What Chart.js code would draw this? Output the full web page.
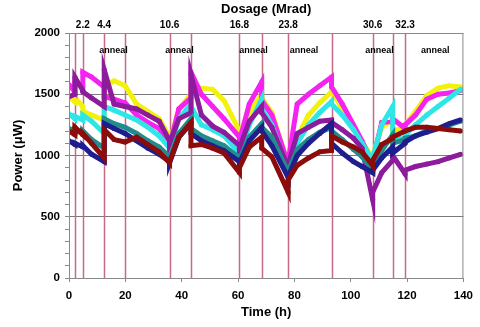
<!DOCTYPE html>
<html>
<head>
<meta charset="utf-8">
<script src="https://cdn.jsdelivr.net/npm/chart.js@4.4.0/dist/chart.umd.min.js"></script>
<style>
  html, body { margin: 0; padding: 0; background: #fff; }
  #wrap { width: 480px; height: 327px; }
</style>
</head>
<body>
<div id="wrap"><canvas id="powerChart" width="480" height="327"></canvas></div>
<script>
// time grid (h); repeated times are the jumps at the irradiation / anneal steps
const hours = [0, 2.1, 2.1, 4.9, 4.9, 8, 12.5, 12.5, 16, 19.9, 24, 28, 32, 35.7, 35.7, 39, 43.3, 43.3, 47, 51, 55,
  60.5, 60.5, 64, 68.4, 68.4, 72, 77.8, 77.8, 81, 85, 89, 93.2, 93.2, 97, 101, 104, 107.8, 107.8, 111,
  114.9, 114.9, 119.3, 119.3, 123, 127, 131, 135, 139];

const maroon = [1200, 1170, 1230, 1170, 1180, 1100, 980, 1210, 1130, 1110, 1150, 1090, 1030, 940, 950, 1150, 1270, 1080, 1090, 1060, 1020,
  860, 900, 1070, 1150, 1060, 990, 700, 800, 920, 980, 1030, 1040, 1160, 1110, 1070, 1030, 920, 960, 1090,
  1140, 1150, 1200, 1200, 1230, 1230, 1220, 1210, 1200];
const navy = [1120, 1090, 1100, 1070, 1080, 1010, 950, 1260, 1220, 1180, 1120, 1060, 1010, 950, 940, 1150, 1260, 1180, 1120, 1080, 1040,
  950, 940, 1120, 1230, 1200, 1080, 820, 830, 1000, 1100, 1180, 1260, 1100, 1020, 950, 910, 860, 880, 980,
  1070, 1020, 1100, 1110, 1160, 1190, 1220, 1260, 1290];
const teal = [1220, 1200, 1210, 1180, 1200, 1130, 1060, 1300, 1260, 1230, 1180, 1120, 1070, 990, 980, 1180, 1300, 1220, 1160, 1120, 1080,
  980, 970, 1150, 1260, 1230, 1150, 860, 870, 1050, 1130, 1190, 1230, 1200, 1130, 1050, 990, 880, 900, 1040,
  1170, 1100, 1130, 1140, 1160, 1200, 1220, 1250, 1280];
const purple = [1480, 1500, 1640, 1530, 1520, 1470, 1400, 1700, 1420, 1400, 1380, 1330, 1280, 1120, 1100, 1300, 1350, 1660, 1330, 1240, 1190,
  1080, 1060, 1280, 1400, 1350, 1230, 900, 920, 1180, 1230, 1280, 1290, 1270, 1210, 1140, 1060, 640, 700, 860,
  960, 1000, 850, 880, 910, 930, 950, 980, 1010];
const cyan = [1340, 1300, 1320, 1290, 1330, 1280, 1180, 1400, 1370, 1330, 1290, 1230, 1160, 1060, 1050, 1300, 1420, 1400, 1250, 1210, 1160,
  1020, 1000, 1250, 1460, 1380, 1250, 880, 900, 1100, 1250, 1350, 1440, 1420, 1330, 1210, 1100, 960, 980, 1250,
  1400, 1150, 1130, 1170, 1250, 1330, 1400, 1470, 1540];
const magenta = [1580, 1520, 1600, 1560, 1680, 1640, 1560, 1480, 1460, 1430, 1330, 1270, 1220, 1100, 1080, 1380, 1470, 1680, 1500, 1400, 1300,
  1150, 1120, 1420, 1600, 1450, 1330, 930, 950, 1420, 1500, 1570, 1640, 1560, 1420, 1250, 1120, 930, 950, 1270,
  1280, 1300, 1220, 1250, 1330, 1460, 1500, 1510, 1530];
const yellow = [1480, 1440, 1470, 1400, 1360, 1330, 1290, 1560, 1610, 1570, 1420, 1360, 1300, 1150, 1100, 1380, 1500, 1560, 1550, 1540, 1450,
  1200, 1180, 1350, 1500, 1470, 1350, 930, 920, 1150, 1330, 1430, 1520, 1530, 1380, 1240, 1110, 980, 1000, 1230,
  1290, 1200, 1230, 1250, 1360, 1490, 1550, 1570, 1560];

// vertical markers, dose labels on top, anneal notes
const stepLines = [2.1, 4.9, 12.5, 19.9, 35.7, 43.3, 60.5, 68.4, 77.8, 93.2, 107.8, 114.9, 119.3];
const doseAt = [4.9, 12.5, 35.7, 60.5, 77.8, 107.8, 119.3];
const doseLabels = ['2.2', '4.4', '10.6', '16.8', '23.8', '30.6', '32.3'];
const annealAt = [15.8, 39.2, 65.5, 83.4, 110.2, 130];

const FONT = 'Liberation Sans';

function pts(vals) {
  return vals.map((v, i) => ({ x: hours[i], y: v }));
}
function series(label, vals, color) {
  return {
    label: label,
    data: pts(vals),
    showLine: true,
    borderColor: color,
    backgroundColor: color,
    borderWidth: 5,
    pointRadius: 2.5,
    pointBorderWidth: 0,
    tension: 0
  };
}

const markers = {
  id: 'markers',
  beforeDatasetsDraw(chart) {
    const { ctx, chartArea: a, scales: { x } } = chart;
    ctx.save();
    ctx.strokeStyle = '#c76a84';
    ctx.lineWidth = 1.5;
    stepLines.forEach(t => {
      const px = Math.round(x.getPixelForValue(t)) + 0.5;
      ctx.beginPath();
      ctx.moveTo(px, a.top);
      ctx.lineTo(px, a.bottom);
      ctx.stroke();
    });
    ctx.restore();
  },
  afterDatasetsDraw(chart) {
    const { ctx, chartArea: a, scales: { x } } = chart;
    ctx.save();
    ctx.strokeStyle = '#8a8a8a';
    ctx.lineWidth = 1;
    ctx.strokeRect(a.left + 0.5, a.top + 0.5, a.right - a.left - 1, a.bottom - a.top);
    ctx.fillStyle = '#000';
    ctx.font = 'bold 9px ' + FONT;
    ctx.textAlign = 'center';
    ctx.textBaseline = 'middle';
    annealAt.forEach(t => ctx.fillText('anneal', x.getPixelForValue(t), a.top + 18));
    ctx.restore();
  }
};

new Chart(document.getElementById('powerChart').getContext('2d'), {
  type: 'scatter',
  data: {
    datasets: [
      series('maroon', maroon, '#8c0c0c'),
      series('navy', navy, '#1e1e8e'),
      series('teal', teal, '#228c8c'),
      series('purple', purple, '#8c1c9c'),
      series('cyan', cyan, '#2ee6e6'),
      series('magenta', magenta, '#f424f0'),
      series('yellow', yellow, '#f2f20a')
    ]
  },
  options: {
    responsive: false,
    devicePixelRatio: 1,
    animation: false,
    layout: { padding: { left: 0, right: 9, top: 0, bottom: 0 } },
    plugins: { legend: { display: false }, tooltip: { enabled: false } },
    scales: {
      x: {
        type: 'linear', position: 'bottom', min: 0, max: 140,
        afterFit: s => { s.height = 49; },
        ticks: { stepSize: 20, color: '#000', font: { family: FONT, size: 11.5, weight: 'bold' }, padding: 7, maxRotation: 0 },
        grid: { drawOnChartArea: false, tickLength: 4, color: '#888' },
        border: { color: '#888' },
        title: { display: true, text: 'Time (h)', color: '#000', font: { family: FONT, size: 13, weight: 'bold' }, padding: { top: 0, bottom: 7 } }
      },
      x2: {
        type: 'linear', position: 'top', min: 0, max: 140,
        afterFit: s => { s.height = 33; },
        afterBuildTicks: s => { s.ticks = doseAt.map(v => ({ value: v })); },
        ticks: { autoSkip: false, maxRotation: 0, padding: 2, color: '#000', font: { family: FONT, size: 10, weight: 'bold' },
          callback: (v, i) => doseLabels[i] },
        grid: { display: false, drawTicks: false },
        border: { display: false },
        title: { display: true, text: 'Dosage (Mrad)', color: '#000', font: { family: FONT, size: 13, weight: 'bold' }, padding: { top: 2, bottom: 0 } }
      },
      y: {
        min: 0, max: 2000,
        afterFit: s => { s.width = 69; },
        ticks: { stepSize: 100, autoSkip: false, padding: 5, color: '#000', font: { family: FONT, size: 11.5, weight: 'bold' },
          callback: v => (v % 500 === 0 ? v : '') },
        grid: { color: c => (c.tick && c.tick.value % 500 === 0 ? '#7a7a7a' : 'rgba(0,0,0,0)'), tickColor: '#888', tickLength: 4 },
        border: { color: '#888' },
        title: { display: true, text: 'Power (\u03bcW)', color: '#000', font: { family: FONT, size: 13, weight: 'bold' }, padding: { top: 11, bottom: 0 } }
      }
    }
  },
  plugins: [markers]
});
</script>
</body>
</html>
